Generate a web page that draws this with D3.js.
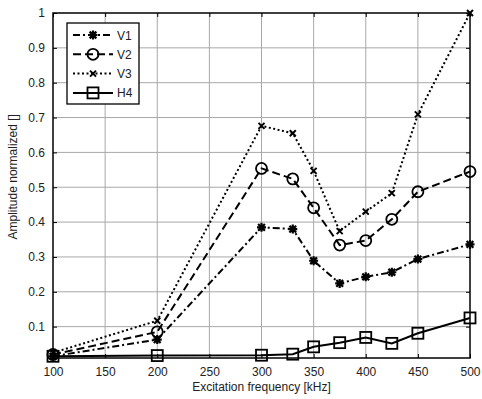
<!DOCTYPE html>
<html>
<head>
<meta charset="utf-8">
<script src="https://cdn.jsdelivr.net/npm/d3@7"></script>
<style>
  body { margin: 0; background: #fff; }
  svg { font-family: "Liberation Sans", Arial, sans-serif; }
</style>
</head>
<body>
<div id="chart"></div>
<script>
// data
var freqs = [100, 200, 300, 330, 350, 375, 400, 425, 450, 500];
var v1 = [0.015, 0.063, 0.385, 0.380, 0.289, 0.224, 0.243, 0.256, 0.294, 0.336];
var v2 = [0.020, 0.085, 0.554, 0.524, 0.441, 0.334, 0.347, 0.408, 0.487, 0.545];
var v3 = [0.025, 0.117, 0.676, 0.655, 0.547, 0.374, 0.430, 0.483, 0.709, 1.000];
var h4 = [0.015, 0.017, 0.018, 0.021, 0.042, 0.054, 0.069, 0.052, 0.081, 0.125];
var seriesNames = ["V1", "V2", "V3", "H4"];
var xTicks = [100, 150, 200, 250, 300, 350, 400, 450, 500];
var yTicks = [0.1, 0.2, 0.3, 0.4, 0.5, 0.6, 0.7, 0.8, 0.9, 1];

var width = 482, height = 399;
var margin = { top: 13, right: 12, bottom: 41, left: 53 };
var w = width - margin.left - margin.right,
    h = height - margin.top - margin.bottom;

var x = d3.scaleLinear().domain([100, 500]).range([0, w]);
var y = d3.scaleLinear().domain([0.01, 1]).range([h, 0]);

var svg = d3.select("#chart").append("svg")
    .attr("width", width).attr("height", height);
var g = svg.append("g")
    .attr("transform", "translate(" + margin.left + "," + margin.top + ")");

// grid
g.selectAll("line.gx").data(xTicks.slice(1, -1)).enter().append("line")
    .attr("x1", d => x(d)).attr("x2", d => x(d))
    .attr("y1", 0).attr("y2", h)
    .attr("stroke", "#a8a8a8").attr("stroke-width", 1);
g.selectAll("line.gy").data(yTicks.slice(0, -1)).enter().append("line")
    .attr("y1", d => y(d)).attr("y2", d => y(d))
    .attr("x1", 0).attr("x2", w)
    .attr("stroke", "#a8a8a8").attr("stroke-width", 1);

// axes (ticks inside, on all four sides)
var tl = 4;
g.append("g").attr("transform", "translate(0," + h + ")")
    .call(d3.axisBottom(x).tickValues(xTicks).tickSize(-tl).tickPadding(9));
g.append("g")
    .call(d3.axisTop(x).tickValues(xTicks).tickSize(-tl).tickFormat(""));
g.append("g")
    .call(d3.axisLeft(y).tickValues(yTicks).tickSize(-tl).tickPadding(8)
      .tickFormat(d3.format("~g")));
g.append("g").attr("transform", "translate(" + w + ",0)")
    .call(d3.axisRight(y).tickValues(yTicks).tickSize(-tl).tickFormat(""));
g.selectAll(".domain").remove();
g.selectAll(".tick line").attr("stroke", "#000");
g.selectAll(".tick text").attr("font-size", 12).attr("fill", "#222")
    .attr("font-family", "Liberation Sans, Arial, sans-serif");
g.append("rect").attr("width", w).attr("height", h)
    .attr("fill", "none").attr("stroke", "#000").attr("stroke-width", 1.5);

// labels
svg.append("text").attr("x", margin.left + w / 2).attr("y", 391)
    .attr("text-anchor", "middle").attr("font-size", 12).attr("fill", "#222")
    .text("Excitation frequency [kHz]");
svg.append("text")
    .attr("transform", "translate(17," + (margin.top + y(0.53)) + ") rotate(-90)")
    .attr("text-anchor", "middle").attr("font-size", 12).attr("fill", "#222")
    .text("Amplitude normalized []");

var styles = [
  { dash: "7,3,2,3", marker: "star" },
  { dash: "8,4", marker: "circle" },
  { dash: "2,2.5", marker: "x" },
  { dash: null, marker: "square" }
];
var allSeries = [v1, v2, v3, h4];

function drawMarker(sel, type, cx, cy) {
  if (type === "circle") {
    sel.append("circle").attr("cx", cx).attr("cy", cy).attr("r", 5.5)
      .attr("fill", "none").attr("stroke", "#000").attr("stroke-width", 1.8);
  } else if (type === "square") {
    sel.append("rect").attr("x", cx - 5.5).attr("y", cy - 5.5)
      .attr("width", 11).attr("height", 11)
      .attr("fill", "none").attr("stroke", "#000").attr("stroke-width", 1.8);
  } else if (type === "star") {
    var r = 4.5;
    sel.append("path")
      .attr("d", "M" + (cx - r) + "," + cy + "H" + (cx + r) +
        "M" + cx + "," + (cy - r) + "V" + (cy + r) +
        "M" + (cx - r * 0.75) + "," + (cy - r * 0.75) + "L" + (cx + r * 0.75) + "," + (cy + r * 0.75) +
        "M" + (cx - r * 0.75) + "," + (cy + r * 0.75) + "L" + (cx + r * 0.75) + "," + (cy - r * 0.75))
      .attr("stroke", "#000").attr("stroke-width", 2.2);
  } else if (type === "x") {
    var s = 3;
    sel.append("path")
      .attr("d", "M" + (cx - s) + "," + (cy - s) + "L" + (cx + s) + "," + (cy + s) +
        "M" + (cx - s) + "," + (cy + s) + "L" + (cx + s) + "," + (cy - s))
      .attr("stroke", "#000").attr("stroke-width", 2);
  }
}

var line = d3.line().x((d, i) => x(freqs[i])).y(d => y(d));

allSeries.forEach(function (vals, k) {
  var st = styles[k];
  g.append("path").datum(vals).attr("d", line)
    .attr("fill", "none").attr("stroke", "#000").attr("stroke-width", 2)
    .attr("stroke-dasharray", st.dash);
  var mg = g.append("g");
  vals.forEach(function (v, i) { drawMarker(mg, st.marker, x(freqs[i]), y(v)); });
});

// legend
var leg = svg.append("g").attr("transform", "translate(67,23)");
leg.append("rect").attr("width", 72).attr("height", 81)
  .attr("fill", "#fff").attr("stroke", "#000").attr("stroke-width", 1.3);
seriesNames.forEach(function (name, k) {
  var ly = 12 + k * 19.3;
  leg.append("line").attr("x1", 6).attr("x2", 46).attr("y1", ly).attr("y2", ly)
    .attr("stroke", "#000").attr("stroke-width", 2)
    .attr("stroke-dasharray", styles[k].dash);
  drawMarker(leg, styles[k].marker, 26, ly);
  leg.append("text").attr("x", 50).attr("y", ly + 4.5)
    .attr("font-size", 12).attr("fill", "#222").text(name);
});
</script>
</body>
</html>
